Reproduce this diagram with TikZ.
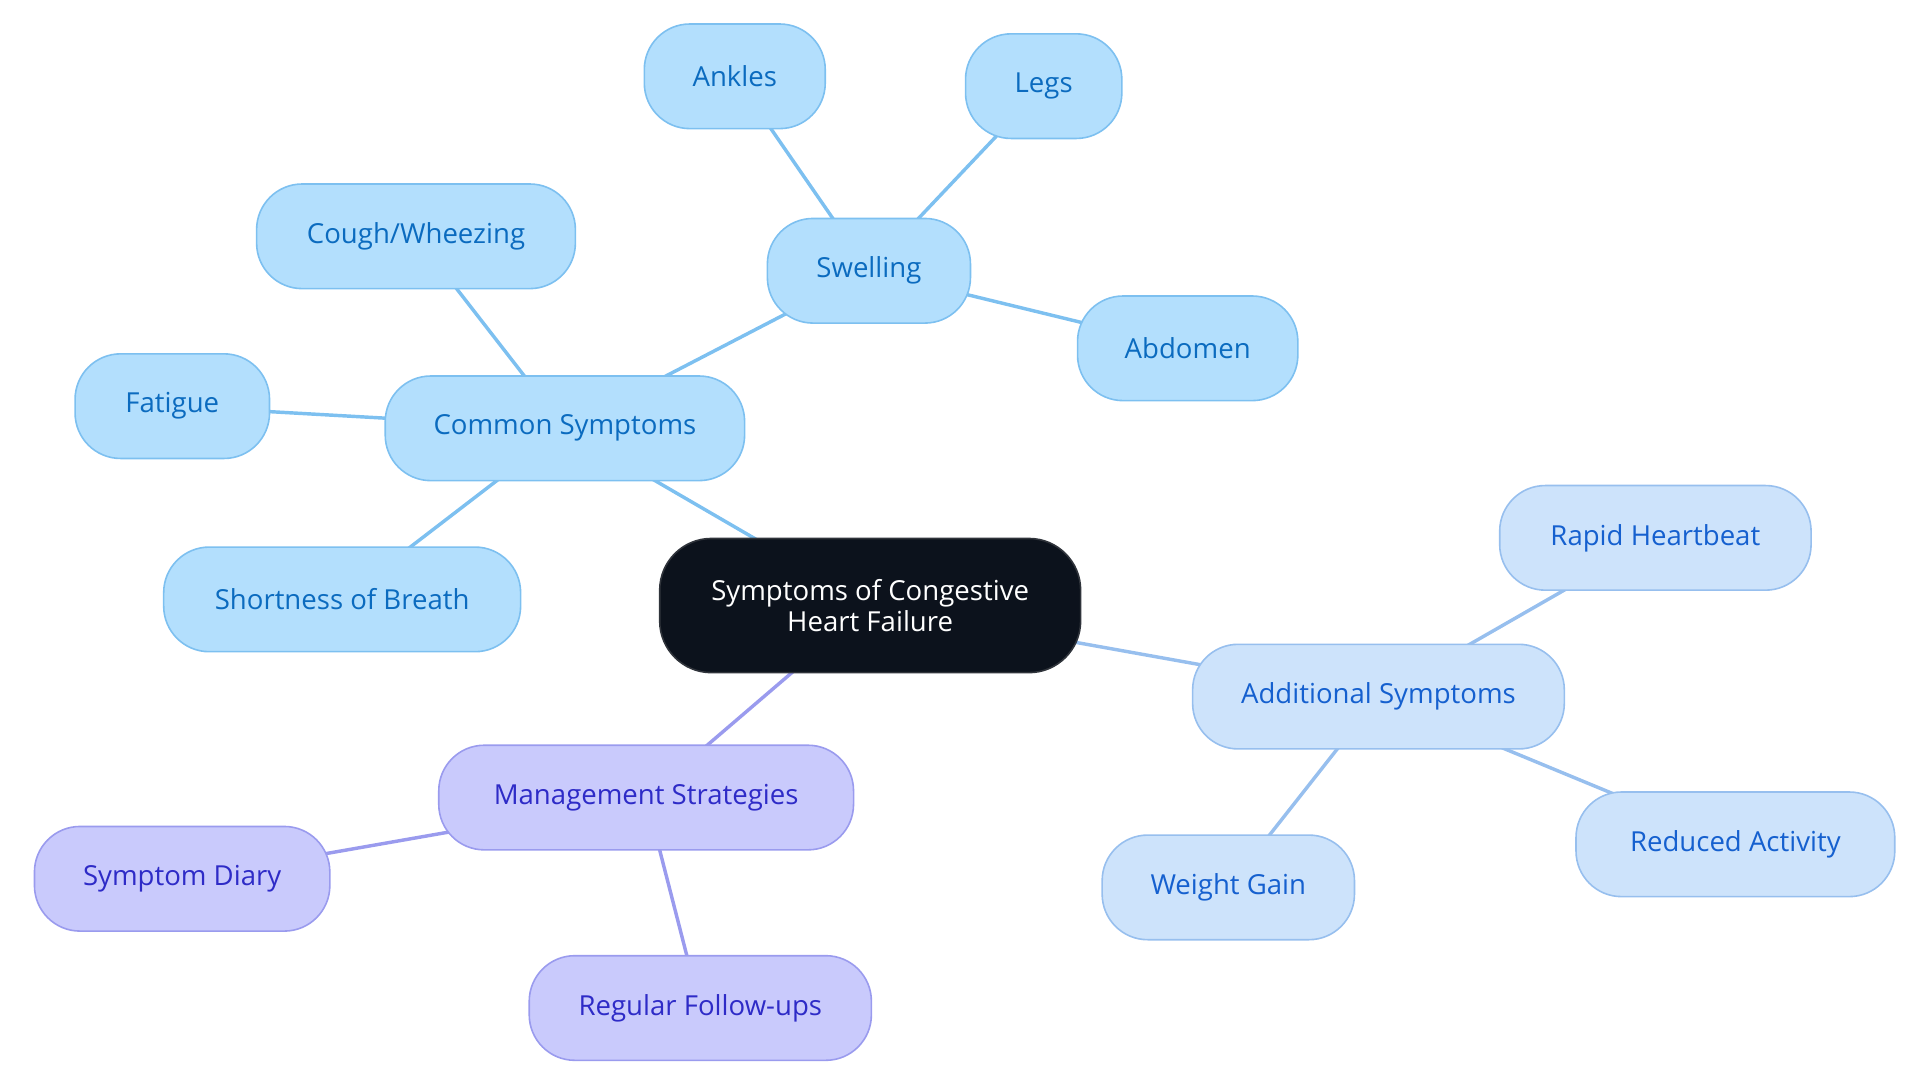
\documentclass[tikz,border=0pt]{standalone}
\usepackage{fontspec}
\setmainfont{Open Sans}
\usetikzlibrary{backgrounds}
\definecolor{cfill}{HTML}{B3DFFD}
\definecolor{cline}{HTML}{7DC0F0}
\definecolor{ctext}{HTML}{0B6BBF}
\definecolor{afill}{HTML}{CDE3FB}
\definecolor{aline}{HTML}{97BFEE}
\definecolor{atext}{HTML}{1560CF}
\definecolor{mfill}{HTML}{C9CAFC}
\definecolor{mline}{HTML}{9A9BEE}
\definecolor{mtext}{HTML}{2E2BC7}
\definecolor{rootfill}{HTML}{0C121C}
\definecolor{rootline}{HTML}{30343B}
\tikzset{
  x=1pt,y=-1pt,
  box/.style={draw, line width=1.3pt, rounded corners=37pt, inner xsep=10pt, inner ysep=0pt,
    minimum height=85pt, font=\fontsize{22.4}{25.5}\selectfont, align=center},
  cbox/.style={box, fill=cfill, draw=cline, text=ctext},
  abox/.style={box, fill=afill, draw=aline, text=atext},
  mbox/.style={box, fill=mfill, draw=mline, text=mtext},
  rootbox/.style={box, fill=rootfill, draw=rootline, text=white, minimum height=109pt, rounded corners=42pt},
  w/.style={minimum width=#1 pt},
  cedge/.style={draw=cline, line width=2.8pt},
  aedge/.style={draw=aline, line width=2.8pt},
  medge/.style={draw=mline, line width=2.8pt},
}
\begin{document}
\begin{tikzpicture}
\useasboundingbox (0,0) rectangle (1560,880);
\node[rootbox, w=342] (root) at (707,492) {Symptoms of Congestive\\Heart Failure};
\node[cbox, w=292] (common) at (459,348) {Common Symptoms};
\node[cbox, w=165] (swell) at (706,220) {Swelling};
\node[cbox, w=259] (cough) at (338,192) {Cough/Wheezing};
\node[cbox, w=158] (fatigue) at (140,330) {Fatigue};
\node[cbox, w=290] (breath) at (278,487) {Shortness of Breath};
\node[cbox, w=147] (ankles) at (597,62) {Ankles};
\node[cbox, w=127] (legs) at (848,70) {Legs};
\node[cbox, w=179] (abdomen) at (965,283) {Abdomen};
\node[abox, w=302] (add) at (1120,566) {Additional Symptoms};
\node[abox, w=253] (rapid) at (1345,437) {Rapid Heartbeat};
\node[abox, w=259] (reduced) at (1410,686) {Reduced Activity};
\node[abox, w=205] (weight) at (998,721) {Weight Gain};
\node[mbox, w=337] (manage) at (525,648) {Management Strategies};
\node[mbox, w=240] (diary) at (148,714) {Symptom Diary};
\node[mbox, w=278] (follow) at (569,819) {Regular Follow-ups};
\begin{scope}[on background layer]
\draw[cedge] (root.center) -- (common.center);
\draw[cedge] (common.center) -- (swell.center);
\draw[cedge] (common.center) -- (cough.center);
\draw[cedge] (common.center) -- (fatigue.center);
\draw[cedge] (common.center) -- (breath.center);
\draw[cedge] (swell.center) -- (ankles.center);
\draw[cedge] (swell.center) -- (legs.center);
\draw[cedge] (swell.center) -- (abdomen.center);
\draw[aedge] (root.center) -- (add.center);
\draw[aedge] (add.center) -- (rapid.center);
\draw[aedge] (add.center) -- (reduced.center);
\draw[aedge] (add.center) -- (weight.center);
\draw[medge] (root.center) -- (manage.center);
\draw[medge] (manage.center) -- (diary.center);
\draw[medge] (manage.center) -- (follow.center);
\end{scope}
\end{tikzpicture}
\end{document}
